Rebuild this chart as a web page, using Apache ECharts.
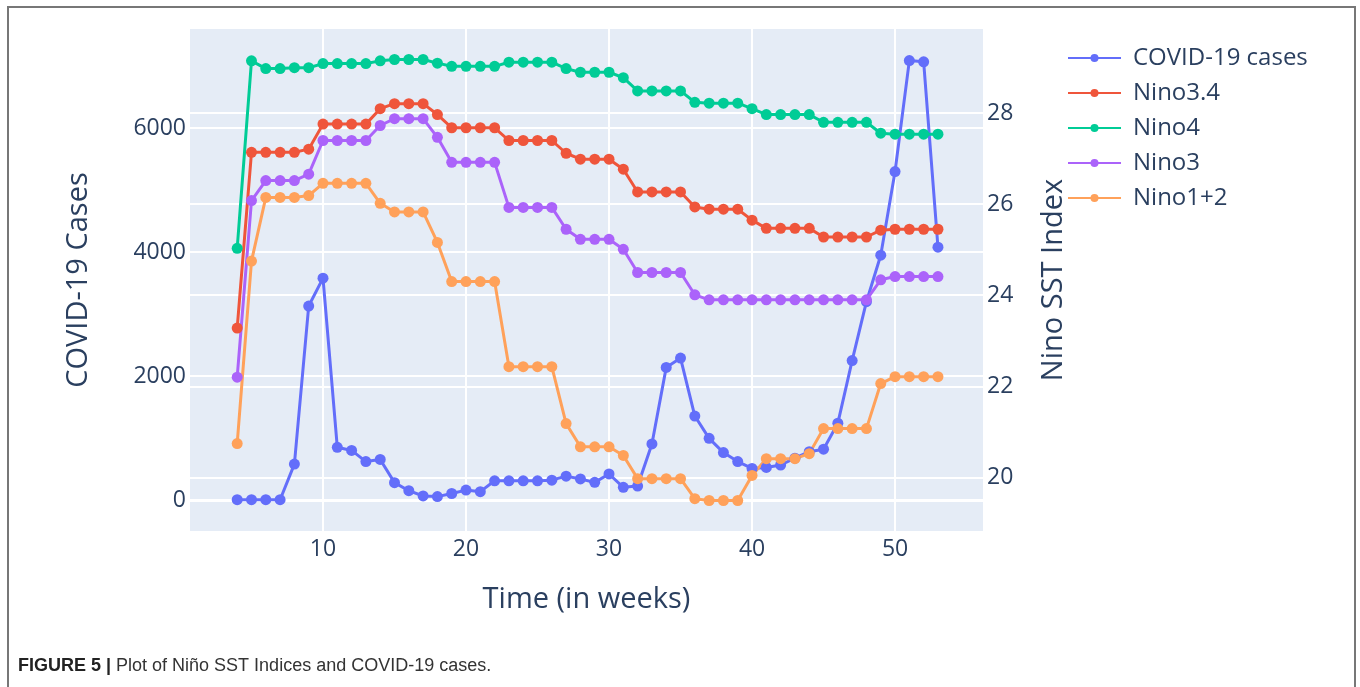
<!DOCTYPE html>
<html>
<head>
<meta charset="utf-8">
<title>Nino SST Indices and COVID-19 cases</title>
<script src="https://cdn.jsdelivr.net/npm/echarts@6/dist/echarts.min.js"></script>
<style>
  html, body { margin: 0; padding: 0; background: #fff; }
  #chart { width: 1360px; height: 687px; }
</style>
</head>
<body>
<div id="chart"></div>
<script>
// weeks 4..53
var weeks = [4, 5, 6, 7, 8, 9, 10, 11, 12, 13, 14, 15, 16, 17, 18, 19, 20, 21, 22, 23,
  24, 25, 26, 27, 28, 29, 30, 31, 32, 33, 34, 35, 36, 37, 38, 39, 40, 41, 42, 43,
  44, 45, 46, 47, 48, 49, 50, 51, 52, 53];

var covidCases = [5, 5, 5, 5, 580, 3130, 3580, 850, 800, 620, 655, 280, 150, 65, 55, 105, 160, 135, 310, 310,
  310, 310, 320, 385, 340, 285, 420, 205, 225, 905, 2140, 2290, 1355, 995, 765, 620, 510, 525, 565, 675,
  780, 820, 1240, 2250, 3200, 3950, 5300, 7090, 7070, 4080];

var nino34 = [23.28, 27.14, 27.14, 27.14, 27.14, 27.21, 27.76, 27.76, 27.76, 27.76, 28.10, 28.21, 28.21, 28.21, 27.97, 27.68, 27.68, 27.68, 27.68, 27.40,
  27.40, 27.40, 27.40, 27.12, 26.99, 26.99, 26.99, 26.77, 26.27, 26.27, 26.27, 26.27, 25.94, 25.89, 25.89, 25.89, 25.65, 25.47, 25.47, 25.47,
  25.47, 25.28, 25.28, 25.28, 25.28, 25.43, 25.45, 25.45, 25.45, 25.45];

var nino4 = [25.03, 29.15, 28.98, 28.98, 29.00, 29.00, 29.09, 29.09, 29.09, 29.09, 29.15, 29.18, 29.18, 29.18, 29.10, 29.03, 29.03, 29.03, 29.03, 29.12,
  29.12, 29.12, 29.12, 28.98, 28.90, 28.90, 28.90, 28.78, 28.49, 28.49, 28.49, 28.49, 28.24, 28.22, 28.22, 28.22, 28.10, 27.97, 27.97, 27.97,
  27.97, 27.80, 27.80, 27.80, 27.80, 27.56, 27.54, 27.54, 27.54, 27.54];

var nino3 = [22.20, 26.08, 26.52, 26.52, 26.52, 26.66, 27.40, 27.40, 27.40, 27.40, 27.73, 27.88, 27.88, 27.88, 27.47, 26.92, 26.92, 26.92, 26.92, 25.93,
  25.93, 25.93, 25.93, 25.45, 25.23, 25.23, 25.23, 25.01, 24.50, 24.50, 24.50, 24.50, 24.01, 23.90, 23.90, 23.90, 23.90, 23.90, 23.90, 23.90,
  23.90, 23.90, 23.90, 23.90, 23.90, 24.34, 24.41, 24.41, 24.41, 24.41];

var nino12 = [20.74, 24.75, 26.15, 26.15, 26.15, 26.19, 26.46, 26.46, 26.46, 26.46, 26.02, 25.83, 25.83, 25.83, 25.16, 24.30, 24.30, 24.30, 24.30, 22.43,
  22.43, 22.43, 22.43, 21.18, 20.67, 20.67, 20.67, 20.48, 19.97, 19.97, 19.97, 19.97, 19.53, 19.49, 19.49, 19.49, 20.04, 20.41, 20.41, 20.41,
  20.52, 21.07, 21.07, 21.07, 21.07, 22.06, 22.21, 22.21, 22.21, 22.21];

var xTicks = [10, 20, 30, 40, 50];
var leftTicks = [0, 2000, 4000, 6000];
var rightTicks = [20, 22, 24, 26, 28];

var seriesNames = ["COVID-19 cases", "Nino3.4", "Nino4", "Nino3", "Nino1+2"];
var colors = ["#636efa", "#EF553B", "#00cc96", "#ab63fa", "#FFA15A"];

function pairs(vals) {
  return weeks.map(function (w, i) { return [w, vals[i]]; });
}

var font = "'Open Sans', 'DejaVu Sans', sans-serif";
var textColor = "#2a3f5f";

var chart = echarts.init(document.getElementById("chart"));

function lineSeries(idx, vals, yAxisIndex) {
  return {
    name: seriesNames[idx],
    type: "line",
    yAxisIndex: yAxisIndex,
    data: pairs(vals),
    symbol: "circle",
    symbolSize: 11,
    showAllSymbol: true,
    animation: false,
    itemStyle: { color: colors[idx] },
    lineStyle: { color: colors[idx], width: 3 }
  };
}

var series = [
  lineSeries(0, covidCases, 0),
  lineSeries(1, nino34, 1),
  lineSeries(2, nino4, 1),
  lineSeries(3, nino3, 1),
  lineSeries(4, nino12, 1)
];
// plotly style zero line on the left axis
series[0].markLine = {
  silent: true,
  symbol: "none",
  label: { show: false },
  lineStyle: { color: "#ffffff", width: 3, type: "solid" },
  data: [{ yAxis: 0 }],
  z: 1
};

chart.setOption({
  backgroundColor: "#ffffff",
  textStyle: { fontFamily: font },
  grid: {
    show: true,
    left: 190,
    top: 29,
    width: 793,
    height: 502,
    backgroundColor: "#E5ECF6",
    borderWidth: 0
  },
  legend: {
    orient: "vertical",
    left: 1062,
    top: 41,
    itemWidth: 53,
    itemHeight: 10,
    itemGap: 11,
    data: seriesNames,
    textStyle: {
      color: textColor,
      fontSize: 24,
      fontFamily: font,
      padding: [0, 0, 0, 7]
    }
  },
  xAxis: {
    type: "value",
    min: 0.7,
    max: 56.15,
    name: "Time (in weeks)",
    nameLocation: "middle",
    nameGap: 54,
    nameTextStyle: { color: textColor, fontSize: 29, fontFamily: font },
    axisLine: { show: false },
    axisTick: { show: false, customValues: xTicks },
    axisLabel: { customValues: xTicks, color: textColor, fontSize: 23, margin: 7 },
    splitLine: { show: true, lineStyle: { color: "#ffffff", width: 2 } }
  },
  yAxis: [
    {
      type: "value",
      position: "left",
      min: -500,
      max: 7600,
      name: "COVID-19 Cases",
      nameLocation: "middle",
      nameRotate: 90,
      nameGap: 97,
      nameTextStyle: { color: textColor, fontSize: 29, fontFamily: font },
      axisLine: { show: false },
      axisTick: { show: false, customValues: leftTicks },
      axisLabel: {
        customValues: leftTicks,
        color: textColor,
        fontSize: 23,
        margin: 4,
        formatter: function (v) { return String(v); }
      },
      splitLine: { show: true, lineStyle: { color: "#ffffff", width: 2 } }
    },
    {
      type: "value",
      position: "right",
      min: 18.82,
      max: 29.85,
      name: "Nino SST Index",
      nameLocation: "middle",
      nameRotate: 90,
      nameGap: 56,
      nameTextStyle: { color: textColor, fontSize: 29, fontFamily: font },
      axisLine: { show: false },
      axisTick: { show: false, customValues: rightTicks },
      axisLabel: { customValues: rightTicks, color: textColor, fontSize: 23, margin: 4 },
      splitLine: { show: true, lineStyle: { color: "#ffffff", width: 2 } }
    }
  ],
  series: series,
  graphic: [
    {
      type: "rect",
      silent: true,
      shape: { x: 8, y: 7, width: 1347, height: 700 },
      style: { fill: null, stroke: "#777777", lineWidth: 2 }
    },
    {
      type: "text",
      left: 18,
      top: 657,
      style: {
        text: "{b|FIGURE 5 |} Plot of Niño SST Indices and COVID-19 cases.",
        rich: {
          b: { fontWeight: "bold", fontSize: 18, fontFamily: "'Liberation Sans', Arial, sans-serif", fill: "#222222" }
        },
        fontSize: 18,
        fontFamily: "'Liberation Sans', Arial, sans-serif",
        fill: "#333333"
      }
    }
  ]
});
</script>
</body>
</html>
